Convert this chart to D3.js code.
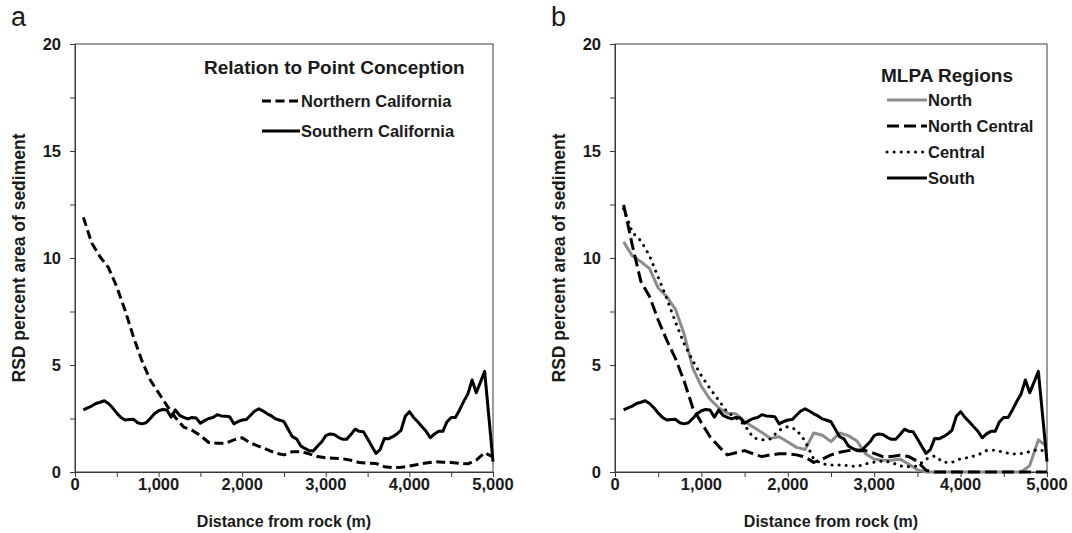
<!DOCTYPE html>
<html><head><meta charset="utf-8">
<script src="https://cdn.jsdelivr.net/npm/d3@7"></script>
<style>
html,body{margin:0;padding:0;background:#fff;}
text{font-family:"Liberation Sans",Arial,sans-serif;fill:#1a1a1a;}
</style></head>
<body>
<svg id="chart" width="1072" height="533"></svg>
<script>
// ---------- data ----------
const distance50 = d3.range(100, 5001, 50);   // 100..5000 step 50
const distance100 = d3.range(100, 5001, 100); // 100..5000 step 100

// Southern California (panel a) == South (panel b)
const southern = [2.9,3.0,3.08,3.2,3.26,3.33,3.2,3.0,2.75,2.55,2.43,2.45,2.46,2.3,2.25,2.3,2.5,2.72,2.86,2.92,
  2.9,2.56,2.9,2.65,2.55,2.48,2.55,2.52,2.28,2.4,2.5,2.55,2.68,2.62,2.6,2.58,2.25,2.35,2.43,2.45,
  2.65,2.85,2.95,2.85,2.72,2.62,2.48,2.42,2.35,2.0,1.65,1.55,1.22,1.1,1.0,0.98,1.2,1.4,1.7,1.78,
  1.75,1.62,1.53,1.53,1.75,2.0,1.9,1.88,1.55,1.2,0.87,1.05,1.57,1.55,1.65,1.78,1.95,2.6,2.82,2.55,
  2.35,2.12,1.9,1.6,1.78,1.9,1.9,2.35,2.55,2.55,2.9,3.3,3.65,4.3,3.7,4.2,4.7,2.6,0.48];
const northern = [11.9,10.7,10.06,9.55,8.65,7.55,6.3,5.2,4.3,3.7,3.1,2.55,2.1,1.95,1.7,1.38,1.34,1.34,1.5,1.6,
  1.35,1.2,1.05,0.88,0.8,0.95,0.95,0.85,0.72,0.66,0.64,0.62,0.55,0.44,0.42,0.4,0.25,0.2,0.22,0.28,
  0.35,0.42,0.48,0.46,0.44,0.4,0.38,0.56,0.9,0.71];
const north = [10.75,10.1,9.83,9.5,8.6,8.19,7.6,6.45,4.85,4.0,3.4,3.0,2.75,2.72,2.35,2.1,1.85,1.57,1.65,1.4,
  1.15,1.05,1.82,1.72,1.42,1.82,1.7,1.45,0.85,0.6,0.55,0.55,0.6,0.36,0.1,0,0,0,0,0,
  0,0,0,0,0,0,0,0.3,1.5,1.18];
const northCentral = [12.48,10.6,8.9,8.2,7.1,6.15,5.3,4.25,3.0,2.3,1.65,1.2,0.8,0.9,1.0,0.85,0.72,0.8,0.85,0.85,
  0.8,0.7,0.45,0.6,0.8,0.92,1.0,1.03,1.0,0.87,0.72,0.72,0.78,0.72,0.5,0.08,0,0,0,0,
  0,0,0,0,0,0,0,0,0,0];
const central = [12.3,11.2,10.8,10.1,9.1,8.1,7.0,6.0,5.2,4.5,3.9,3.35,2.8,2.52,2.2,1.6,1.5,1.55,1.95,2.12,
  1.98,1.45,0.6,0.38,0.33,0.33,0.3,0.25,0.38,0.46,0.52,0.45,0.28,0.25,0.28,0.6,0.75,0.45,0.45,0.62,
  0.68,0.8,1.0,1.02,0.92,0.84,0.86,0.95,1.05,0.95];

const xTicks = d3.range(0, 5001, 500);
const xLabelTicks = [0,1000,2000,3000,4000,5000];
const yTicks = d3.range(0, 20.1, 2.5);
const yLabelTicks = [0,5,10,15,20];
const panelLetters = ["a","b"];
const legendTitles = ["Relation to Point Conception","MLPA Regions"];
const xTitle = "Distance from rock (m)";
const yTitle = "RSD percent area of sediment";

// ---------- drawing ----------
const svg = d3.select("#chart");
const fmt = d3.format(",");

function panel(opt){
  const g = svg.append("g");
  const x = d3.scaleLinear().domain([0,5000]).range([opt.left, opt.right]);
  const y = d3.scaleLinear().domain([0,20]).range([472, 44]);

  // frame
  g.append("rect").attr("x",opt.left).attr("y",44).attr("width",opt.right-opt.left).attr("height",428)
    .attr("fill","none").attr("stroke","#3a3a3a").attr("stroke-width",1);

  // axes
  const xa = g.append("g").attr("transform","translate(0,472)")
    .call(d3.axisBottom(x).tickValues(xTicks).tickSize(5).tickFormat(""));
  const ya = g.append("g").attr("transform",`translate(${opt.left},0)`)
    .call(d3.axisLeft(y).tickValues(yTicks).tickSize(5).tickFormat(""));
  [xa,ya].forEach(a=>{a.select(".domain").attr("stroke","#3a3a3a");a.selectAll("line").attr("stroke","#3a3a3a");});

  g.selectAll(".xl").data(xLabelTicks).enter().append("text")
    .attr("x",d=>x(d)).attr("y",490).attr("text-anchor","middle")
    .style("font-size","16.5px").style("font-weight","bold").text(d=>fmt(d));
  g.selectAll(".yl").data(yLabelTicks).enter().append("text")
    .attr("x",opt.left-14).attr("y",d=>y(d)+6).attr("text-anchor","end")
    .style("font-size","16.5px").style("font-weight","bold").text(d=>d);

  g.append("text").attr("x",(opt.left+opt.right)/2).attr("y",527).attr("text-anchor","middle")
    .style("font-size","16px").style("font-weight","bold").text(xTitle);
  g.append("text").attr("transform",`translate(${opt.left-50},258) rotate(-90)`).attr("text-anchor","middle")
    .style("font-size","17.5px").style("font-weight","bold").text(yTitle);

  g.append("text").attr("x",opt.letterX).attr("y",26).style("font-size","27px").text(opt.letter);

  // series
  opt.series.forEach(s=>{
    const line = d3.line().x((d,i)=>x(s.xs[i])).y(d=>y(d));
    g.append("path").datum(s.values).attr("fill","none")
      .attr("stroke",s.color).attr("stroke-width",s.width)
      .attr("stroke-dasharray",s.dash||null).attr("stroke-linecap",s.cap||"butt")
      .attr("stroke-linejoin","round").attr("d",line);
  });

  // legend
  g.append("text").attr("x",opt.legTitleX).attr("y",opt.legTitleY).style("font-size",opt.legTitleSize)
    .style("font-weight","bold").text(opt.legTitle);
  opt.legend.forEach((s,i)=>{
    const yy = opt.legY0 + i*opt.legDy;
    g.append("line").attr("x1",opt.legX1).attr("x2",opt.legX2).attr("y1",yy).attr("y2",yy)
      .attr("stroke",s.color).attr("stroke-width",s.width).attr("stroke-dasharray",s.dash||null)
      .attr("stroke-linecap",s.cap||"butt");
    g.append("text").attr("x",opt.legX2+1).attr("y",yy+6).style("font-size","16.5px")
      .style("font-weight","bold").text(s.name);
  });
}

const sNorthern = {name:"Northern California",values:northern,xs:distance100,color:"#000",width:3,dash:"9,4.5"};
const sSouthern = {name:"Southern California",values:southern,xs:distance50,color:"#000",width:3};
panel({left:75,right:493,letter:panelLetters[0],letterX:11,
  series:[sNorthern,sSouthern],legend:[sNorthern,sSouthern],
  legTitle:legendTitles[0],legTitleX:204,legTitleY:74,legTitleSize:"19px",
  legX1:262,legX2:300,legY0:101,legDy:30});

const sNorth = {name:"North",values:north,xs:distance100,color:"#8c8c8c",width:3};
const sNC = {name:"North Central",values:northCentral,xs:distance100,color:"#000",width:3,dash:"12,5"};
const sCentral = {name:"Central",values:central,xs:distance100,color:"#000",width:3,dash:"0.1,7",cap:"round"};
const sSouth = {name:"South",values:southern,xs:distance50,color:"#000",width:3};
panel({left:615,right:1047,letter:panelLetters[1],letterX:551,
  series:[sNorth,sNC,sCentral,sSouth],legend:[sNorth,sNC,sCentral,sSouth],
  legTitle:legendTitles[1],legTitleX:881,legTitleY:82,legTitleSize:"19px",
  legX1:887,legX2:927,legY0:100,legDy:26});
</script>
</body></html>
